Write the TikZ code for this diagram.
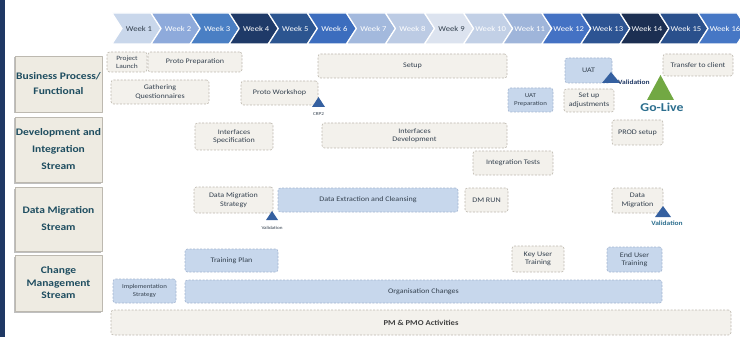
\documentclass[tikz,border=0pt]{standalone}
\usepackage{fontspec}
\setmainfont[FakeStretch=1.15]{Carlito}
\usetikzlibrary{positioning}
\definecolor{navy}{HTML}{1F3864}
\definecolor{taskbg}{HTML}{F3F1EC}
\definecolor{taskline}{HTML}{BDB8AE}
\definecolor{tasktext}{HTML}{34414F}
\definecolor{bluebg}{HTML}{C7D7EC}
\definecolor{blueline}{HTML}{A3B5D0}
\definecolor{streambg}{HTML}{EEEBE2}
\definecolor{streamline}{HTML}{BDB9B0}
\definecolor{streamtext}{HTML}{1E4D60}
\definecolor{msblue}{HTML}{3560A0}
\definecolor{msgreen}{HTML}{72A843}
\definecolor{golivetext}{HTML}{2C6E8E}
\definecolor{wkA}{HTML}{C9D7EB}
\definecolor{wkB}{HTML}{8EAADB}
\definecolor{wkC}{HTML}{4A7FC4}
\definecolor{wkD}{HTML}{1F3A68}
\definecolor{wkE}{HTML}{2C5590}
\definecolor{wkF}{HTML}{3C6DBE}
\definecolor{wkG}{HTML}{A3B9DD}
\definecolor{wkH}{HTML}{BCCBE4}
\definecolor{wkI}{HTML}{DCE3EF}
\definecolor{wkJ}{HTML}{C2D0E6}
\definecolor{wkK}{HTML}{9FB5DA}
\definecolor{wkL}{HTML}{4472C4}
\definecolor{wkM}{HTML}{2D5493}
\definecolor{wkN}{HTML}{1C2F52}
\definecolor{wkO}{HTML}{2A508C}
\definecolor{wkP}{HTML}{4677C5}
\begin{document}
\begin{tikzpicture}[x=1pt,y=-1pt, line join=round, >=stealth,
	sz/.style 2 args={minimum width=#1pt, minimum height=#2pt},
	task/.style={draw=taskline, dash pattern=on 2pt off 1.5pt, line width=0.6pt, fill=taskbg, rounded corners=2.5pt, inner sep=0pt, text=tasktext, align=center, font=\fontsize{7}{8.5}\selectfont},
	bluetask/.style={task, draw=blueline, fill=bluebg},
	stream/.style={draw=streamline, line width=0.8pt, fill=streambg, inner sep=0pt, text=streamtext, align=center, font=\bfseries\fontsize{10}{15}\selectfont},
	weeklbl/.style={font=\fontsize{7.5}{8}\selectfont},
	mslbl/.style={inner sep=0pt, font=\bfseries\fontsize{6.5}{7}\selectfont}]
	\useasboundingbox (0,0) rectangle (740,337);
	\fill[navy] (0,0) rectangle (5,337);
	
	%% Cac tuan
	\foreach \i/\col/\txt in {1/wkA/tasktext,2/wkB/white,3/wkC/white,4/wkD/white,5/wkE/white,6/wkF/white,7/wkG/white,8/wkH/white,9/wkI/tasktext,10/wkJ/white,11/wkK/white,12/wkL/white,13/wkM/white,14/wkN/white,15/wkO/white,16/wkP/white}
	{
		\pgfmathsetmacro\c{139+39.07*(\i-1)}
		\draw[white, line width=1.2pt, fill=\col] (\c-27,13)--(\c+12,13)--(\c+22,28.5)--(\c+12,44)--(\c-27,44)--(\c-17,28.5)--cycle;
		\node[weeklbl, text=\txt] (w\i) at (\c,28.5) {Week \i};
	}
	
	%% Cac luong (bong mo)
	\foreach \y/\h in {84/56,149.5/65,219/64,283/56}
	\fill[black!25] (14,\y-\h/2+1.5) rectangle (101,\y+\h/2+1.5);
	\node[stream, sz={87}{56}] (business) at (58.5,84) {Business Process/\\Functional};
	\node[stream, sz={87}{65}, font=\bfseries\fontsize{10}{17}\selectfont] (devint) at (58.5,149.5) {Development and\\Integration\\Stream};
	\node[stream, sz={87}{64}, font=\bfseries\fontsize{10}{17}\selectfont] (datamig) at (58.5,219) {Data Migration\\Stream};
	\node[stream, sz={87}{56}, font=\bfseries\fontsize{10}{12.5}\selectfont] (change) at (58.5,283) {Change\\Management\\Stream};
	
	%% Business Process
	\node[task, sz={40}{20}, font=\fontsize{6.5}{8}\selectfont] (launch) at (127,62) {Project\\Launch};
	\node[task, sz={94}{20}] (protoprep) at (195,62) {Proto Preparation};
	\node[task, sz={189}{24}] (setup) at (412.5,66) {Setup};
	\node[bluetask, sz={47}{25}] (uat) at (588.5,70.5) {UAT};
	\node[task, sz={70}{22}] (transfer) at (698,65) {Transfer to client};
	\node[task, sz={98}{24}] (gather) at (160,92) {Gathering\\Questionnaires};
	\node[task, sz={77}{24}] (protows) at (279.5,93) {Proto Workshop};
	\node[bluetask, sz={45}{24}, font=\fontsize{6}{7.5}\selectfont] (uatprep) at (530.5,100) {UAT\\Preparation};
	\node[task, sz={50}{23}] (adjust) at (589,100.5) {Set up\\adjustments};
	
	%% Development and Integration
	\node[task, sz={78}{27}] (ifspec) at (234,136.5) {Interfaces\\Specification};
	\node[task, sz={185}{25}] (ifdev) at (414.5,135.5) {Interfaces\\Development};
	\node[task, sz={51}{25}] (prod) at (637.5,132.5) {PROD setup};
	\node[task, sz={80}{24}] (inttest) at (513,163) {Integration Tests};
	
	%% Data Migration
	\node[task, sz={79}{26}] (dmstrat) at (233.5,200) {Data Migration\\Strategy};
	\node[bluetask, sz={180}{24}] (extract) at (368,200) {Data Extraction and Cleansing};
	\node[task, sz={43}{24}] (dmrun) at (486.5,200) {DM RUN};
	\node[task, sz={51}{25}] (dmig) at (637.5,200.5) {Data\\Migration};
	
	%% Change Management
	\node[bluetask, sz={93}{23}] (trainplan) at (231.5,260.5) {Training Plan};
	\node[task, sz={52}{26}] (keyuser) at (538,259) {Key User\\Training};
	\node[bluetask, sz={55}{25}] (enduser) at (634.5,259.5) {End User\\Training};
	\node[bluetask, sz={63}{24}, font=\fontsize{6}{7.5}\selectfont] (implstrat) at (144.5,291) {Implementation\\Strategy};
	\node[bluetask, sz={477}{23}] (orgchg) at (423.5,291.5) {Organisation Changes};
	\node[task, sz={620}{25}, font=\bfseries\fontsize{7.5}{9}\selectfont, text=black!75] (pmo) at (421,322.5) {PM \& PMO Activities};
	
	%% Cac moc
	\fill[msblue] (318.5,97)--(325,107)--(312,107)--cycle;
	\node[inner sep=0pt, font=\fontsize{4.5}{5}\selectfont, text=tasktext] (crp) at (318.5,114) {CRP2};
	\fill[msblue] (611,72)--(620,83)--(602,83)--cycle;
	\node[mslbl, text=navy, anchor=west] (uatval) at (618,82) {Validation};
	\fill[msgreen] (660.5,75)--(674,100)--(647,100)--cycle;
	\node[inner sep=0pt, font=\bfseries\fontsize{12}{13}\selectfont, text=golivetext] (golive) at (662,107) {Go-Live};
	\fill[msblue] (272,211)--(278,220)--(266,220)--cycle;
	\node[inner sep=0pt, font=\fontsize{4.5}{5}\selectfont, text=tasktext] (dsval) at (272,228) {Validation};
	\fill[msblue] (663,206)--(671,217)--(655,217)--cycle;
	\node[mslbl, text=golivetext] (dmval) at (667,223) {Validation};
\end{tikzpicture}
\end{document}
